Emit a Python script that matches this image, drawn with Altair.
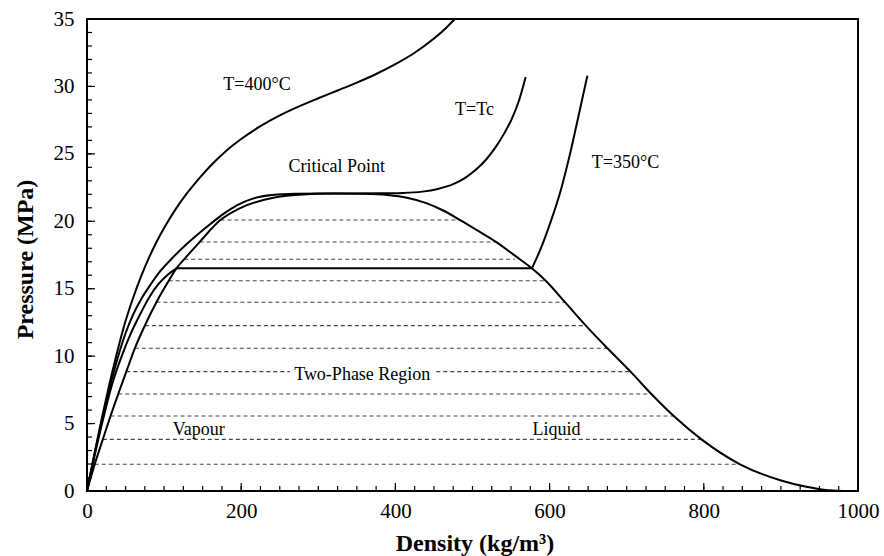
import altair as alt
import pandas as pd

# ---------------- data ----------------
# saturation dome (vapour branch -> critical point -> liquid branch)
dome_rho = [0, 10, 20.5, 30.5, 40.5, 51, 62, 75, 90, 106, 116, 126, 146, 173, 198, 230, 270, 322,
            360, 390, 415, 440, 462, 484, 507, 531, 555, 577, 595, 620, 647, 675, 705, 732,
            761, 797, 847, 899, 933, 958, 980]
dome_p = [0, 1.98, 3.83, 5.56, 7.19, 8.85, 10.58, 12.26, 14.0, 15.59, 16.51, 17.18, 18.46, 20.09,
          20.96, 21.6, 21.95, 22.06, 22.04, 21.95, 21.75, 21.35, 20.8, 20.09, 19.3, 18.46, 17.45,
          16.51, 15.59, 14.0, 12.26, 10.58, 8.85, 7.19, 5.56, 3.83, 1.98, 0.8, 0.32, 0.08, 0.0]

# T = 400 C isotherm
t400_rho = [0, 10, 20, 30, 40, 50, 60, 70, 80, 90, 100, 115, 130, 145, 160, 180, 200, 225, 250,
            275, 300, 325, 350, 375, 400, 425, 450, 465, 477]
t400_p = [0, 2.85, 5.6, 8.15, 10.5, 12.6, 14.35, 15.9, 17.25, 18.45, 19.5, 20.9, 22.1, 23.15, 24.1,
          25.2, 26.1, 27.05, 27.85, 28.52, 29.12, 29.7, 30.28, 30.92, 31.65, 32.5, 33.55, 34.3, 35.0]

# T = Tc isotherm
tc_rho = [0, 10, 20, 30, 40, 50, 60, 70, 80, 95, 112, 130, 145, 160, 177, 195, 215, 240, 270,
          322, 380, 410, 435, 455, 475, 490, 505, 518, 530, 541, 551, 560, 569]
tc_p = [0, 2.8, 5.4, 7.8, 9.9, 11.7, 13.1, 14.2, 15.1, 16.3, 17.35, 18.35, 19.1, 19.8, 20.55,
        21.2, 21.68, 21.95, 22.04, 22.06, 22.07, 22.1, 22.2, 22.4, 22.75, 23.2, 23.85, 24.6,
        25.5, 26.5, 27.6, 28.9, 30.7]

# T = 350 C isotherm: vapour branch, two-phase plateau, liquid branch
t350v_rho = [0, 7.5, 19.5, 33, 45, 57, 68, 80, 92, 104, 116]
t350v_p = [0, 2.0, 5.0, 8.0, 10.0, 11.7, 13.0, 14.3, 15.3, 16.0, 16.51]
t350t_rho = [116, 577]
t350t_p = [16.51, 16.51]
t350l_rho = [577, 588, 601, 613.5, 626.5, 639, 649]
t350l_p = [16.51, 17.9, 19.9, 22.1, 25.0, 28.2, 30.8]

# dashed tie lines inside the two-phase region (8.85 MPa line broken by its label)
tie_p = [1.98, 3.83, 5.56, 7.19, 8.85, 8.85, 10.58, 12.26, 14.0, 15.59, 17.18, 18.46, 20.09]
tie_rho_v = [10, 20.5, 30.5, 40.5, 51, 453, 62, 75, 90, 106, 126, 146, 173]
tie_rho_l = [847, 797, 761, 732, 263, 705, 675, 647, 620, 595, 555, 531, 484]

# annotations
label_text = ["T=400°C", "T=Tc", "Critical Point", "T=350°C", "Two-Phase Region", "Vapour", "Liquid"]
label_rho = [220.5, 502.6, 323.8, 698.4, 357, 145, 609]
label_p = [30.1, 28.25, 24.05, 24.3, 8.6, 4.52, 4.52]

x_major = [0, 200, 400, 600, 800, 1000]
x_minor = list(range(0, 1001, 25))
y_major = [0, 5, 10, 15, 20, 25, 30, 35]
y_minor = list(range(0, 36))

# ---------------- chart ----------------
W, H = 771, 472
SERIF = "Liberation Serif"

def X(field):
    return alt.X(field, type="quantitative",
                 scale=alt.Scale(domain=[0, 1000], nice=False, zero=False),
                 axis=alt.Axis(values=x_major, format="d", ticks=False, domain=False, grid=False,
                               labelFont=SERIF, labelFontSize=21, labelColor="black",
                               labelPadding=9, labelFlush=False, labelOverlap=False,
                               title="Density (kg/m³)", titleFont=SERIF, titleFontSize=24,
                               titleFontWeight="bold", titleColor="black",
                               titleBaseline="middle", titleY=52, titleX=W / 2 + 2))

def Y(field):
    return alt.Y(field, type="quantitative",
                 scale=alt.Scale(domain=[0, 35], nice=False, zero=False),
                 axis=alt.Axis(values=y_major, format="d", ticks=False, domain=False, grid=False,
                               labelFont=SERIF, labelFontSize=21, labelColor="black",
                               labelPadding=13, labelOverlap=False,
                               title="Pressure (MPa)", titleFont=SERIF, titleFontSize=24,
                               titleFontWeight="bold", titleColor="black",
                               titleBaseline="middle", titleX=-62, titleY=240))

frames = []
for name, r, p in [("dome", dome_rho, dome_p), ("t400", t400_rho, t400_p), ("tc", tc_rho, tc_p),
                   ("t350v", t350v_rho, t350v_p), ("t350t", t350t_rho, t350t_p),
                   ("t350l", t350l_rho, t350l_p)]:
    frames.append(pd.DataFrame({"series": name, "rho": r, "p": p}))
curves_df = pd.concat(frames, ignore_index=True)

ties_df = pd.DataFrame({"p": tie_p, "r1": tie_rho_v, "r2": tie_rho_l})
labels_df = pd.DataFrame({"text": label_text, "rho": label_rho, "p": label_p})

ties = alt.Chart(ties_df).mark_rule(color="#444444", strokeWidth=1.1, strokeDash=[4, 3]).encode(
    x=X("r1"), x2="r2", y=Y("p"))

curves = alt.Chart(curves_df).mark_line(color="black", strokeWidth=2, interpolate="monotone").encode(
    x=X("rho"), y=Y("p"), detail="series:N")

labels = alt.Chart(labels_df).mark_text(font=SERIF, fontSize=18, color="black",
                                        align="center", baseline="middle").encode(
    x=X("rho"), y=Y("p"), text="text:N")

xt_minor = alt.Chart(pd.DataFrame({"v": x_minor})).mark_rule(color="black", strokeWidth=1.2).encode(
    x=X("v"), y=alt.value(H), y2=alt.value(H - 5))
xt_major = alt.Chart(pd.DataFrame({"v": x_major})).mark_rule(color="black", strokeWidth=1.2).encode(
    x=X("v"), y=alt.value(H), y2=alt.value(H - 8))
yt_minor = alt.Chart(pd.DataFrame({"v": y_minor})).mark_rule(color="black", strokeWidth=1.2).encode(
    y=Y("v"), x=alt.value(0), x2=alt.value(5))
yt_major = alt.Chart(pd.DataFrame({"v": y_major})).mark_rule(color="black", strokeWidth=1.2).encode(
    y=Y("v"), x=alt.value(0), x2=alt.value(8))

chart = alt.layer(ties, curves, labels, xt_minor, xt_major, yt_minor, yt_major).properties(
    width=W, height=H,
    autosize=alt.AutoSizeParams(type="none"),
    padding={"left": 87, "top": 19, "right": 26, "bottom": 65},
    background="white",
).configure_view(stroke="black", strokeWidth=2)

chart.save("out.html", embed_options={"renderer": "svg", "actions": False})
